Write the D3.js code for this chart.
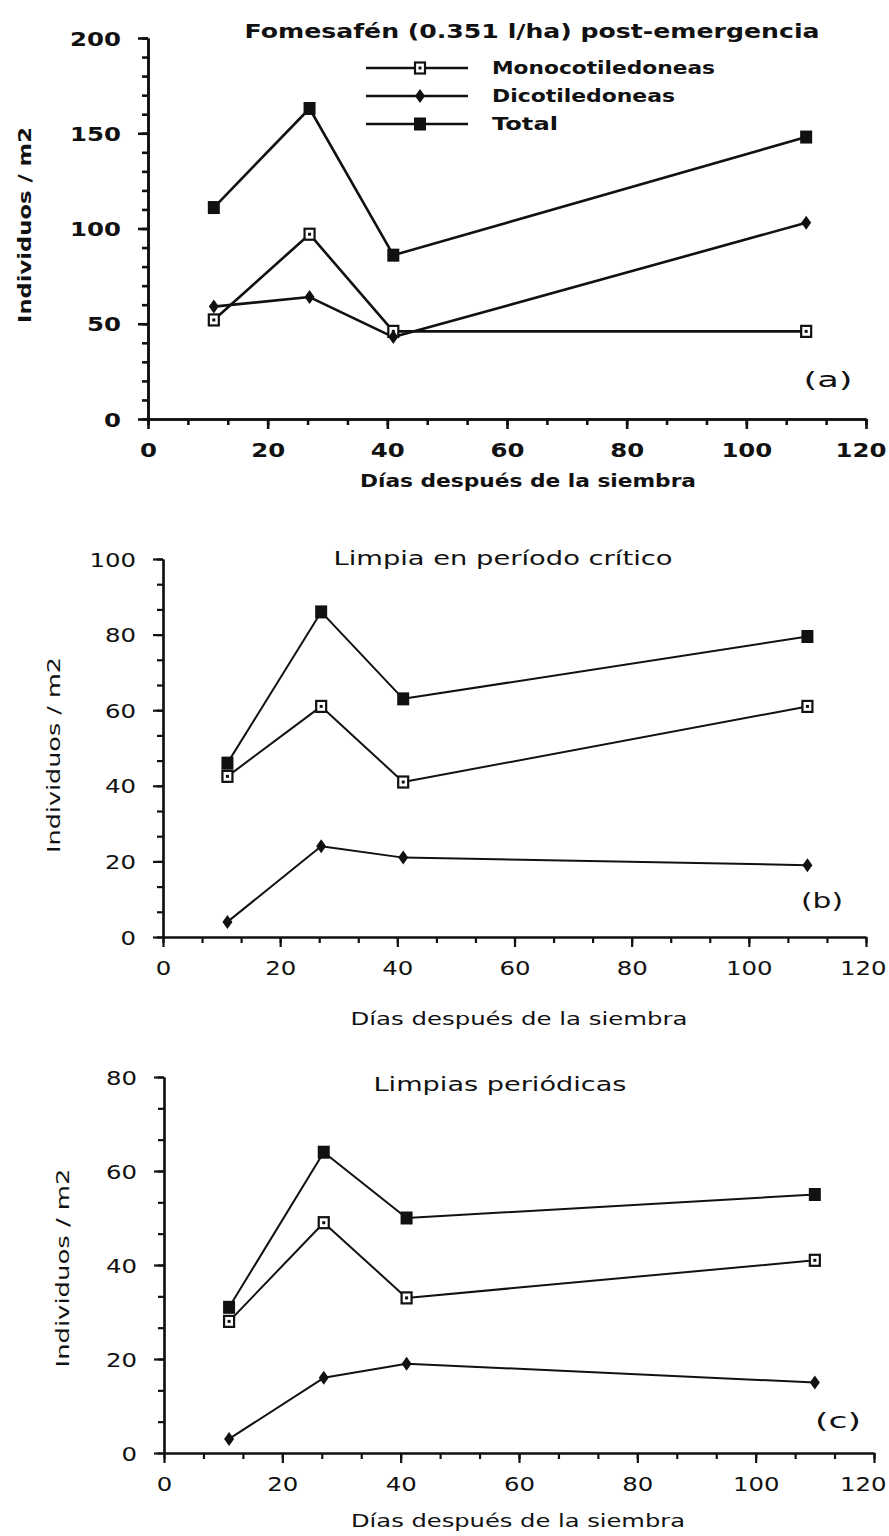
<!DOCTYPE html>
<html>
<head>
<meta charset="utf-8">
<script src="https://cdn.jsdelivr.net/npm/d3@7"></script>
<style>
  body { margin: 0; background: #fff; }
  svg { display: block; }
</style>
</head>
<body>
<div id="chart"></div>
<script>
// Three stacked line charts: weed density over days after sowing

const days = [11, 27, 41, 110];
const seriesNames = ["Monocotiledoneas", "Dicotiledoneas", "Total"];

const monoA = [52, 97, 46, 46];
const dicoA = [59, 64, 43, 103];
const totalA = [111, 163, 86, 148];

const monoB = [42.5, 61, 41, 61];
const dicoB = [4, 24, 21, 19];
const totalB = [46, 86, 63, 79.5];

const monoC = [28, 49, 33, 41];
const dicoC = [3, 16, 19, 15];
const totalC = [31, 64, 50, 55];

const titles = [
  "Fomesafén (0.351 l/ha) post-emergencia",
  "Limpia en período crítico",
  "Limpias periódicas"
];
const panelTags = ["(a)", "(b)", "(c)"];
const xTicks = [0, 20, 40, 60, 80, 100, 120];
const yTicksA = [0, 50, 100, 150, 200];
const yTicksB = [0, 20, 40, 60, 80, 100];
const yTicksC = [0, 20, 40, 60, 80];
const xLabel = "Días después de la siembra";
const yLabel = "Individuos / m2";

const width = 889, height = 1536;
const font = "'DejaVu Sans', sans-serif";
const ink = "#111";

const svg = d3.select("#chart")
  .append("svg")
  .attr("width", width)
  .attr("height", height)
  .style("font-family", font);

// layout of each panel (pixel boxes: [centerX, centerY, width])
const panels = [
  {
    mono: monoA, dico: dicoA, total: totalA, yTicks: yTicksA, yMinorStep: 10,
    title: titles[0], tag: panelTags[0], bold: true, lineW: 2.6, axisW: 2.6,
    x0: 148, x1: 866, yTop: 38, yBot: 419,
    titleBox: [532, 31, 575], xLabBox: [528, 480, 336], yLabBox: [24, 225, 196], tagBox: [828, 379, 49],
    legend: true
  },
  {
    mono: monoB, dico: dicoB, total: totalB, yTicks: yTicksB, yMinorStep: 20 / 3,
    title: titles[1], tag: panelTags[1], bold: false, lineW: 2, axisW: 2.2,
    x0: 163, x1: 866, yTop: 559, yBot: 937,
    titleBox: [503, 558, 339], xLabBox: [519, 1018, 337], yLabBox: [53, 755, 196], tagBox: [822, 900, 42]
  },
  {
    mono: monoC, dico: dicoC, total: totalC, yTicks: yTicksC, yMinorStep: 20 / 3,
    title: titles[2], tag: panelTags[2], bold: false, lineW: 2, axisW: 2.2,
    x0: 164, x1: 874, yTop: 1077, yBot: 1453,
    titleBox: [500, 1084, 253], xLabBox: [518, 1520, 334], yLabBox: [62, 1268, 199], tagBox: [838, 1420, 46]
  }
];

// the scan is stretched sideways, so text gets widened to match
function fit(sel, w) {
  sel.attr("textLength", w).attr("lengthAdjust", "spacingAndGlyphs");
}
function widen(sel, k) {
  sel.each(function () {
    const l = this.getComputedTextLength();
    d3.select(this).attr("textLength", l * k).attr("lengthAdjust", "spacingAndGlyphs");
  });
}

function addText(g, box, txt, size, weight, rotate) {
  const [cx, cy, w] = box;
  const t = g.append("text")
    .attr("x", cx)
    .attr("y", cy)
    .attr("text-anchor", "middle")
    .attr("dominant-baseline", "central")
    .attr("fill", ink)
    .style("font-size", size + "px")
    .style("font-weight", weight)
    .text(txt);
  if (rotate) t.attr("transform", `rotate(-90,${cx},${cy})`);
  fit(t, w);
  return t;
}

function drawMarker(g, kind, cx, cy, sw) {
  if (kind === "Total") {
    g.append("rect")
      .attr("x", cx - 6).attr("y", cy - 6.5)
      .attr("width", 12).attr("height", 13)
      .attr("fill", ink);
  } else if (kind === "Monocotiledoneas") {
    g.append("rect")
      .attr("x", cx - 5).attr("y", cy - 5.5)
      .attr("width", 10).attr("height", 11)
      .attr("fill", "#fff")
      .attr("stroke", ink)
      .attr("stroke-width", sw);
    g.append("rect")
      .attr("x", cx - 1.5).attr("y", cy - 1.5)
      .attr("width", 3).attr("height", 3)
      .attr("fill", ink);
  } else {
    g.append("path")
      .attr("transform", `translate(${cx},${cy})`)
      .attr("d", "M0,-7L5,0L0,7L-5,0Z")
      .attr("fill", ink);
  }
}

function drawPanel(p) {
  const g = svg.append("g");
  const weight = p.bold ? "bold" : "normal";

  const x = d3.scaleLinear().domain([0, 120]).range([p.x0, p.x1]);
  const y = d3.scaleLinear().domain([0, d3.max(p.yTicks)]).range([p.yBot, p.yTop]);

  const xMinor = d3.range(0, 120.001, 20 / 3);
  const yMinor = d3.range(0, d3.max(p.yTicks) + 0.001, p.yMinorStep);

  // minor ticks
  g.append("g")
    .attr("transform", `translate(0,${p.yBot})`)
    .call(d3.axisBottom(x).tickValues(xMinor).tickSize(6).tickSizeOuter(0).tickFormat(""));
  g.append("g")
    .attr("transform", `translate(${p.x0},0)`)
    .call(d3.axisLeft(y).tickValues(yMinor).tickSize(6).tickSizeOuter(0).tickFormat(""));

  // major ticks + labels
  const xAxisG = g.append("g")
    .attr("transform", `translate(0,${p.yBot})`)
    .call(d3.axisBottom(x).tickValues(xTicks).tickSize(10).tickSizeOuter(0).tickFormat(d3.format("d")));
  const yAxisG = g.append("g")
    .attr("transform", `translate(${p.x0},0)`)
    .call(d3.axisLeft(y).tickValues(p.yTicks).tickSize(10).tickSizeOuter(0).tickPadding(17).tickFormat(d3.format("d")));

  g.selectAll(".domain, .tick line")
    .attr("stroke", ink)
    .attr("stroke-width", p.axisW);

  g.selectAll(".tick text")
    .attr("fill", ink)
    .style("font-family", font)
    .style("font-size", "20px")
    .style("font-weight", weight);

  xAxisG.selectAll(".tick text")
    .attr("y", 31)
    .attr("dy", null)
    .attr("dominant-baseline", "central");
  yAxisG.selectAll(".tick text")
    .attr("dy", null)
    .attr("dominant-baseline", "central");

  widen(g.selectAll(".tick text"), 1.22);

  // keep the last x label inside the page
  xAxisG.selectAll(".tick text").each(function (d) {
    const w = +this.getAttribute("textLength");
    const over = x(d) + w / 2 - (width - 3);
    if (over > 0) d3.select(this).attr("x", -over);
  });

  // series lines
  const line = d3.line()
    .x((d, i) => x(days[i]))
    .y(d => y(d));

  const series = [
    { name: seriesNames[0], values: p.mono },
    { name: seriesNames[1], values: p.dico },
    { name: seriesNames[2], values: p.total }
  ];

  g.selectAll("path.series")
    .data(series)
    .enter()
    .append("path")
    .attr("class", "series")
    .attr("fill", "none")
    .attr("stroke", ink)
    .attr("stroke-width", p.lineW)
    .attr("stroke-linejoin", "round")
    .attr("d", d => line(d.values));

  series.forEach(s => {
    s.values.forEach((v, i) => drawMarker(g, s.name, x(days[i]), y(v), 2.2));
  });

  // texts
  addText(g, p.titleBox, p.title, 19, weight, false);
  addText(g, p.xLabBox, xLabel, 18, weight, false);
  addText(g, p.yLabBox, yLabel, 18, weight, true);
  addText(g, p.tagBox, p.tag, 22, "normal", false);

  if (p.legend) {
    const rowsY = [68, 96, 124];
    const textW = [223, 183, 66];
    seriesNames.forEach((name, i) => {
      g.append("line")
        .attr("x1", 366).attr("x2", 468)
        .attr("y1", rowsY[i]).attr("y2", rowsY[i])
        .attr("stroke", ink)
        .attr("stroke-width", 2.6);
      drawMarker(g, name, 420, rowsY[i], 2.2);
      const t = g.append("text")
        .attr("x", 492)
        .attr("y", rowsY[i])
        .attr("dominant-baseline", "central")
        .attr("fill", ink)
        .style("font-size", "17px")
        .style("font-weight", "bold")
        .text(name);
      fit(t, textW[i]);
    });
  }
}

panels.forEach(drawPanel);
</script>
</body>
</html>
